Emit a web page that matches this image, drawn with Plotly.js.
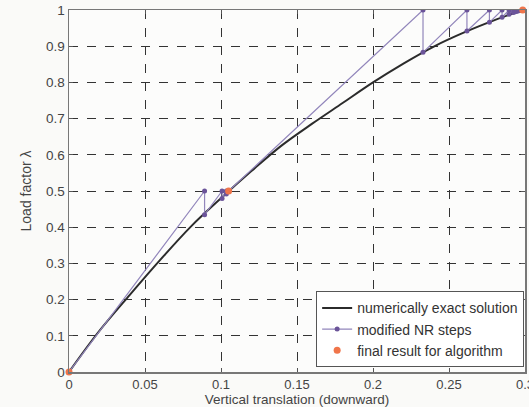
<!DOCTYPE html>
<html>
<head>
<meta charset="utf-8">
<script src="https://cdn.plot.ly/plotly-3.0.1.min.js"></script>
<style>
html,body{margin:0;padding:0;background:#fafaf8;}
#chart{width:529px;height:407px;}
</style>
</head>
<body>
<div id="chart"></div>
<script>
// Numerically exact solution curve
const exactX = [0, 0.02, 0.04, 0.06, 0.08, 0.10, 0.12, 0.14, 0.16, 0.18, 0.20, 0.22, 0.24, 0.26, 0.28, 0.2985];
const exactY = [0, 0.1135, 0.213, 0.3096, 0.401, 0.48, 0.555, 0.626, 0.686, 0.743, 0.80, 0.852, 0.899, 0.938, 0.972, 1.0];

// Modified Newton-Raphson steps
const nrX = [0, 0.0892, 0.0892, 0.1007, 0.1007, 0.1035, 0.1035, 0.105,
             0.2329, 0.2329, 0.2618, 0.2618, 0.2766, 0.2766, 0.2849, 0.2849,
             0.2895, 0.2895, 0.2925, 0.2925, 0.2945, 0.2945, 0.296, 0.296, 0.2972, 0.2972, 0.2985];
const nrY = [0, 0.5, 0.4345, 0.5, 0.479, 0.5, 0.492, 0.5,
             1.0, 0.883, 1.0, 0.942, 1.0, 0.966, 1.0, 0.98,
             1.0, 0.988, 1.0, 0.993, 1.0, 0.996, 1.0, 0.998, 1.0, 0.999, 1.0];

// Final results for algorithm
const finalX = [0, 0.105, 0.2985];
const finalY = [0, 0.5, 1.0];

const xTicks = [0, 0.05, 0.1, 0.15, 0.2, 0.25, 0.3];
const xTickText = ['0', '0.05', '0.1', '0.15', '0.2', '0.25', '0.3'];
const yTicks = [0, 0.1, 0.2, 0.3, 0.4, 0.5, 0.6, 0.7, 0.8, 0.9, 1];
const yTickText = ['0', '0.1', '0.2', '0.3', '0.4', '0.5', '0.6', '0.7', '0.8', '0.9', '1'];

const font = 'Liberation Sans, Arial, Helvetica, sans-serif';

const traces = [
  {x: exactX, y: exactY, type: 'scatter', mode: 'lines', name: 'numerically exact solution',
   line: {color: '#2b2b2b', width: 2, shape: 'spline', smoothing: 1}},
  {x: nrX, y: nrY, type: 'scatter', mode: 'lines+markers', name: 'modified NR steps',
   line: {color: '#9286bb', width: 1.2}, marker: {color: '#6b5499', size: 5}},
  {x: finalX, y: finalY, type: 'scatter', mode: 'markers', name: 'final result for algorithm',
   marker: {color: '#f0754a', size: 7}, cliponaxis: false}
];

const layout = {
  width: 529, height: 407,
  margin: {l: 69, r: 4, t: 10, b: 34.5},
  paper_bgcolor: '#fafaf8', plot_bgcolor: '#fcfcfb',
  font: {family: font, size: 13, color: '#444444'},
  showlegend: true,
  legend: {x: 0.542, y: 0.013, xanchor: 'left', yanchor: 'bottom',
    bgcolor: '#ffffff', bordercolor: '#555555', borderwidth: 1,
    font: {family: font, size: 14, color: '#333333'}, tracegroupgap: 0},
  xaxis: {range: [0, 0.3], tickvals: xTicks, ticktext: xTickText,
    showline: true, linecolor: '#777777', linewidth: 1.5, mirror: 'ticks',
    ticks: 'inside', ticklen: 4, tickcolor: '#555555', ticklabeloverflow: 'allow',
    showgrid: true, gridcolor: '#333333', griddash: 'dash', gridwidth: 1,
    zeroline: false, tickfont: {size: 13, color: '#444444'},
    title: {text: 'Vertical translation (downward)', font: {size: 13.5, color: '#444444'}}},
  yaxis: {range: [0, 1], tickvals: yTicks, ticktext: yTickText,
    showline: true, linecolor: '#777777', linewidth: 1.5, mirror: 'ticks',
    ticks: 'inside', ticklen: 4, tickcolor: '#555555',
    showgrid: true, gridcolor: '#333333', griddash: 'dash', gridwidth: 1,
    zeroline: false, tickfont: {size: 13.5, color: '#444444'},
    title: {text: 'Load factor λ', font: {size: 14, color: '#444444'}}}
};

Plotly.newPlot('chart', traces, layout, {displayModeBar: false, staticPlot: true});
</script>
</body>
</html>
